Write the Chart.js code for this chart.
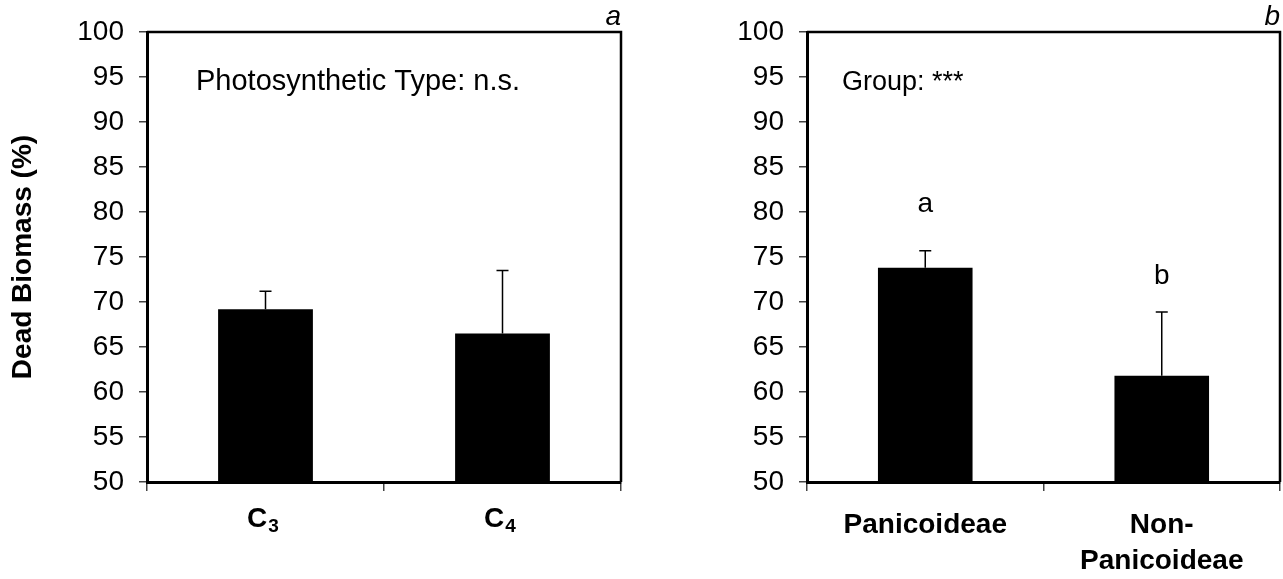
<!DOCTYPE html>
<html>
<head>
<meta charset="utf-8">
<script src="https://cdn.jsdelivr.net/npm/chart.js@4.4.1/dist/chart.umd.min.js"></script>
<style>
  html, body { margin: 0; padding: 0; background: #fff; overflow: hidden; }
  .panel { position: absolute; top: 0; height: 579px; }
  #panelA { left: 0; width: 640px; }
  #panelB { left: 660px; width: 623px; }
</style>
</head>
<body>
<div class="panel" id="panelA"><canvas id="chartA"></canvas></div>
<div class="panel" id="panelB"><canvas id="chartB"></canvas></div>
<script>
/* ==========================================
   Dead biomass by photosynthetic type / group
========================================== */

const FONT = '"Liberation Sans", Arial, Helvetica, sans-serif';

// y axis ticks shared by both panels
const yTicks = [50, 55, 60, 65, 70, 75, 80, 85, 90, 95, 100];

// panel a: photosynthetic type (letter + subscript digit)
const typeLabels = ["C3", "C4"];
const typeMeans = [69.2, 66.5];
const typeErrors = [2.0, 7.0];

// panel b: taxonomic group
const groupLabels = ["Panicoideae", ["Non-", "Panicoideae"]];
const groupMeans = [73.8, 61.8];
const groupErrors = [1.9, 7.1];
const groupLetters = ["a", "b"];
const groupLetterAt = [80, 72];

Chart.defaults.font.family = FONT;
Chart.defaults.color = "#000";

// upper whiskers above each bar
const errorBars = {
  id: "errorBars",
  afterDatasetsDraw(chart, args, opts) {
    const { ctx, scales: { y } } = chart;
    const values = chart.data.datasets[0].data;
    ctx.save();
    ctx.strokeStyle = "#000";
    ctx.lineWidth = 1.5;
    chart.getDatasetMeta(0).data.forEach((bar, i) => {
      const base = y.getPixelForValue(values[i]);
      const top = y.getPixelForValue(values[i] + opts.errors[i]);
      ctx.beginPath();
      ctx.moveTo(bar.x, base);
      ctx.lineTo(bar.x, top);
      ctx.moveTo(bar.x - 6, top);
      ctx.lineTo(bar.x + 6, top);
      ctx.stroke();
    });
    ctx.restore();
  },
};

// box frame, panel letter, test note, significance letters, C3/C4 labels
const decorations = {
  id: "decorations",
  afterDraw(chart, args, opts) {
    const { ctx, chartArea: a, scales: { x, y } } = chart;
    ctx.save();
    ctx.strokeStyle = "#000";
    ctx.lineWidth = 2.5;
    ctx.beginPath();
    ctx.moveTo(a.left, a.top);
    ctx.lineTo(a.right, a.top);
    ctx.lineTo(a.right, a.bottom);
    ctx.stroke();

    ctx.fillStyle = "#000";
    ctx.textBaseline = "alphabetic";
    ctx.font = `italic 28px ${FONT}`;
    ctx.textAlign = "right";
    ctx.fillText(opts.corner, a.right, a.top - 7);

    ctx.font = `${opts.noteSize}px ${FONT}`;
    ctx.textAlign = "left";
    ctx.fillText(opts.note, a.left + opts.noteDx, a.top + 58);

    if (opts.letters) {
      ctx.font = `28px ${FONT}`;
      ctx.textAlign = "center";
      chart.getDatasetMeta(0).data.forEach((bar, i) => {
        ctx.fillText(opts.letters[i], bar.x, y.getPixelForValue(opts.letterAt[i]));
      });
    }

    if (opts.subscripted) {
      ctx.textAlign = "left";
      chart.data.labels.forEach((label, i) => {
        const main = label[0];
        const sub = label.slice(1);
        ctx.font = `bold 28px ${FONT}`;
        const w1 = ctx.measureText(main).width;
        ctx.font = `bold 19px ${FONT}`;
        const w2 = ctx.measureText(sub).width;
        const left = x.getPixelForTick(i) - (w1 + w2) / 2 - 3;
        const base = a.bottom + 44.5;
        ctx.font = `bold 28px ${FONT}`;
        ctx.fillText(main, left, base);
        ctx.font = `bold 19px ${FONT}`;
        ctx.fillText(sub, left + w1 + 1, base + 5);
      });
    }
    ctx.restore();
  },
};

function makeChart(canvasId, labels, means, errors, extra) {
  return new Chart(document.getElementById(canvasId), {
    type: "bar",
    data: {
      labels,
      datasets: [{ data: means, backgroundColor: "#000", borderWidth: 0, barPercentage: 0.4, categoryPercentage: 1 }],
    },
    options: {
      responsive: true,
      maintainAspectRatio: false,
      animation: false,
      layout: { padding: { top: 32, right: extra.padRight, left: 0, bottom: 0 } },
      plugins: {
        legend: { display: false },
        tooltip: { enabled: false },
        errorBars: { errors },
        decorations: extra,
      },
      scales: {
        x: {
          offset: true,
          afterFit: (scale) => { scale.height = 97; },
          border: { color: "#000", width: 3 },
          grid: { offset: true, drawOnChartArea: false, tickLength: 9, color: "#444", lineWidth: 1.5 },
          ticks: {
            display: !extra.subscripted,
            padding: 17,
            maxRotation: 0,
            font: { size: 28, weight: "bold", lineHeight: 1.27 },
          },
        },
        y: {
          min: 50,
          max: 100,
          afterFit: (scale) => { scale.width = 147; },
          afterBuildTicks: (scale) => { scale.ticks = yTicks.map((v) => ({ value: v })); },
          border: { color: "#000", width: 3 },
          grid: { drawOnChartArea: false, tickLength: 8, color: "#444", lineWidth: 1.5 },
          ticks: { padding: 15, font: { size: 28 } },
          title: {
            display: extra.yTitle,
            text: "Dead Biomass (%)",
            padding: { top: 6, bottom: 0 },
            font: { size: 28, weight: "bold" },
          },
        },
      },
    },
    plugins: [errorBars, decorations],
  });
}

makeChart("chartA", typeLabels, typeMeans, typeErrors, {
  corner: "a",
  note: "Photosynthetic Type: n.s.",
  noteSize: 29,
  noteDx: 49,
  padRight: 19,
  yTitle: true,
  subscripted: true,
});

makeChart("chartB", groupLabels, groupMeans, groupErrors, {
  corner: "b",
  note: "Group: ***",
  noteSize: 27,
  noteDx: 35,
  padRight: 3,
  yTitle: false,
  letters: groupLetters,
  letterAt: groupLetterAt,
});
</script>
</body>
</html>
